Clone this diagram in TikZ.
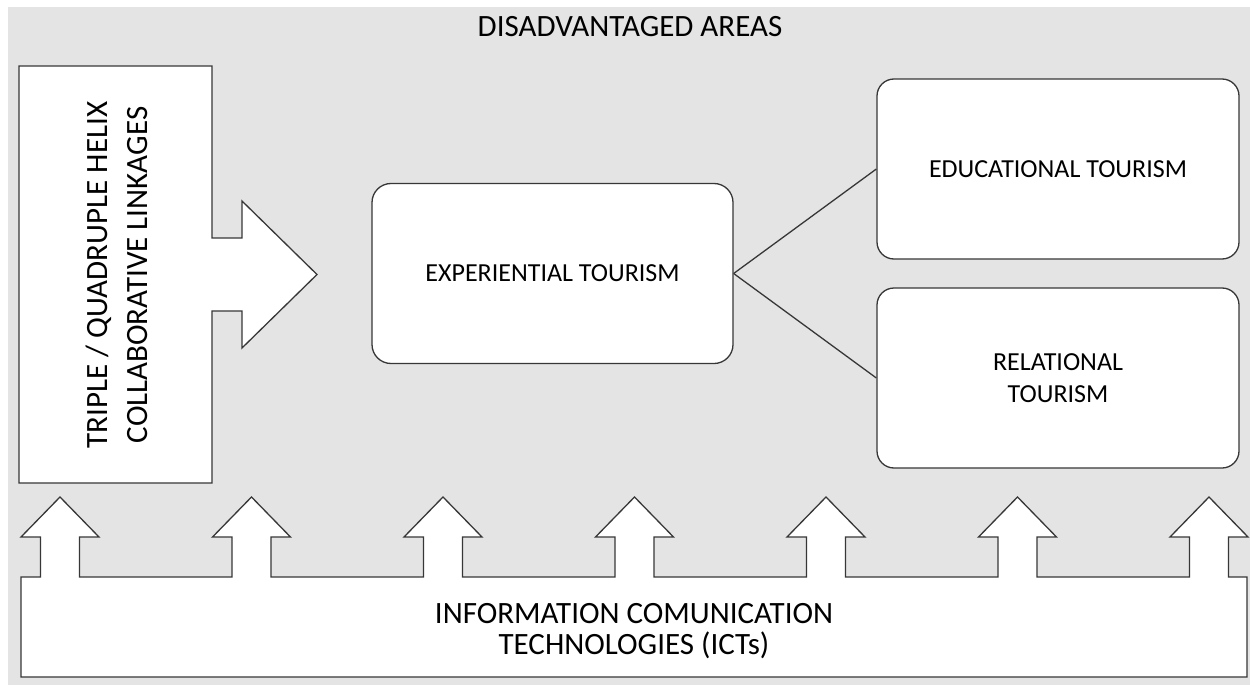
\documentclass[tikz,border=0pt]{standalone}
\usepackage{fontspec}
\setmainfont{Carlito}
\definecolor{areabg}{RGB}{229,228,228}
\definecolor{edge}{RGB}{55,55,55}
\begin{document}
\begin{tikzpicture}[x=1pt,y=-1pt,
  outline/.style={draw=edge, line width=1.3pt, fill=white, line join=miter},
  card/.style={outline, rounded corners=17pt, minimum width=362pt,
    minimum height=180pt, inner sep=0pt, align=center,
    font=\fontsize{26}{32.5}\selectfont},
  link/.style={draw=edge, line width=1.3pt},
  bigtext/.style={align=center, inner sep=0pt}]
\useasboundingbox (0,0) rectangle (1250,685);
% shaded field of the whole scheme
\fill[areabg] (8,7) rectangle (1250,685);

% title of the field
\node[bigtext, font=\fontsize{31}{31}\selectfont] (title) at (630,27) {DISADVANTAGED AREAS};

% helix block with its arrow pointing at the central box
\draw[outline] (19,66) -- (212,66) -- (212,238) -- (242,238) -- (242,201)
  -- (317,274.5) -- (242,348) -- (242,311) -- (212,311) -- (212,483)
  -- (19,483) -- cycle;
\node[bigtext, rotate=90, font=\fontsize{31}{40}\selectfont] (helix) at (116.5,275)
  {TRIPLE / QUADRUPLE HELIX\\COLLABORATIVE LINKAGES};

% tourism boxes
\node[card, minimum width=361pt, rounded corners=19pt] (exp) at (552.5,273.5) {EXPERIENTIAL TOURISM};
\node[card] (edu) at (1058,169) {EDUCATIONAL TOURISM};
\node[card] (rel) at (1058,378) {RELATIONAL\\TOURISM};

\draw[link] (exp.east) -- (edu.west);
\draw[link] (exp.east) -- (rel.west);

% ICT base with seven upward arrows
\draw[outline] (21,677) -- (21,577)
  \foreach \i in {0,...,6}{
    -- ({60+191.5*\i-19.5},577) -- ({60+191.5*\i-19.5},537)
    -- ({60+191.5*\i-39},537) -- ({60+191.5*\i},497)
    -- ({60+191.5*\i+39},537) -- ({60+191.5*\i+19.5},537)
    -- ({60+191.5*\i+19.5},577)
  }
  -- (1247,577) -- (1247,677) -- cycle;
\node[bigtext, font=\fontsize{31}{31.5}\selectfont] (ict) at (634,631)
  {INFORMATION COMUNICATION\\TECHNOLOGIES (ICTs)};
\end{tikzpicture}
\end{document}
